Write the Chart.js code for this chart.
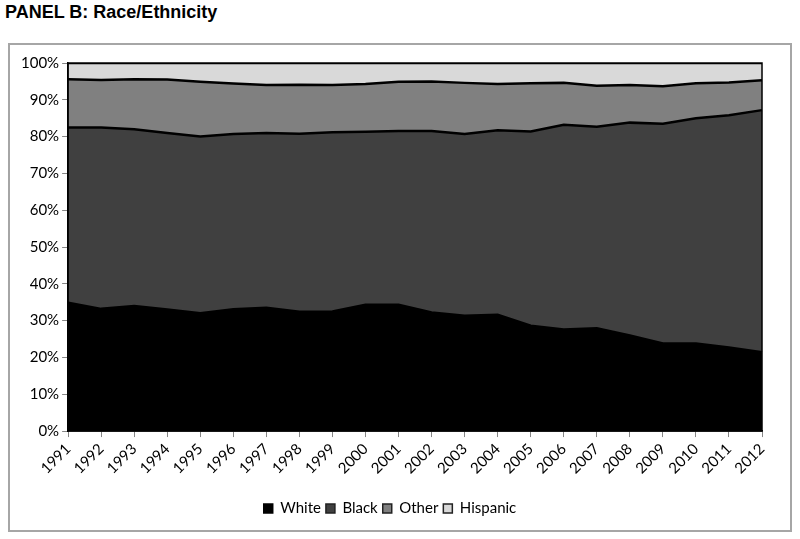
<!DOCTYPE html>
<html>
<head>
<meta charset="utf-8">
<script src="https://cdn.jsdelivr.net/npm/chart.js@4"></script>
<style>
  body { margin: 0; background: #fff; width: 800px; height: 539px; position: relative; overflow: hidden; }
  #title { position: absolute; left: 5px; top: 2px; font: bold 18px "Liberation Sans", Arial, sans-serif; color: #000; }
  #box { position: absolute; left: 8px; top: 43px; width: 780px; height: 485px; border: 2px solid #a6a6a6; }
</style>
</head>
<body>
<div id="title">PANEL B: Race/Ethnicity</div>
<div id="box"><canvas id="areaChart" width="780" height="485"></canvas></div>
<script>
const years = ['1991','1992','1993','1994','1995','1996','1997','1998','1999','2000','2001',
               '2002','2003','2004','2005','2006','2007','2008','2009','2010','2011','2012'];
const white    = [34.9,33.2,34.0,33.0,32.0,33.1,33.5,32.4,32.5,34.3,34.3,32.2,31.3,31.6,28.6,27.6,27.9,26.0,23.8,23.8,22.7,21.4];
const black    = [47.6,49.3,48.0,48.0,48.0,47.6,47.5,48.4,48.7,47.0,47.2,49.3,49.4,50.1,52.8,55.6,54.8,57.8,59.7,61.2,63.1,65.8];
const other    = [13.1,12.9,13.6,14.5,14.9,13.7,13.0,13.3,12.8,13.0,13.4,13.5,13.9,12.6,13.1,11.4,11.1,10.2,10.2,9.5,8.9,8.1];
const hispanic = [4.4,4.6,4.4,4.5,5.1,5.6,6.0,5.9,6.0,5.7,5.1,5.0,5.4,5.7,5.5,5.4,6.2,6.0,6.3,5.5,5.3,4.7];

// frame round the plot area (top and right edges too)
const frame = {
    id: 'frame',
    afterDatasetsDraw(chart) {
        const a = chart.chartArea, c = chart.ctx;
        c.save();
        c.strokeStyle = '#000';
        c.lineWidth = 1.5;
        c.strokeRect(a.left, a.top, a.right - a.left, a.bottom - a.top);
        c.restore();
    }
};

function series(label, data, color, fill) {
    return {
        label: label,
        data: data,
        backgroundColor: color,
        borderColor: '#000',
        borderWidth: 2.5,
        fill: fill,
        pointRadius: 0,
        tension: 0
    };
}

const ctx = document.getElementById('areaChart');
new Chart(ctx, {
    type: 'line',
    data: {
        labels: years,
        datasets: [
            series('White', white, '#000000', 'origin'),
            series('Black', black, '#404040', '-1'),
            series('Other', other, '#808080', '-1'),
            series('Hispanic', hispanic, '#d9d9d9', '-1')
        ]
    },
    options: {
        responsive: false,
        animation: false,
        layout: { padding: { left: 8, right: 28, top: 18, bottom: 4 } },
        plugins: {
            tooltip: { enabled: false },
            legend: {
                position: 'bottom',
                // blank title just to leave room above the legend
                title: { display: true, text: ' ', font: { size: 8 }, padding: 3 },
                labels: {
                    color: '#000',
                    font: { family: 'Lato', size: 15 },
                    boxWidth: 9,
                    boxHeight: 9,
                    padding: 5,
                    generateLabels(chart) {
                        return chart.data.datasets.map((d, i) => ({
                            text: d.label,
                            fillStyle: d.backgroundColor,
                            strokeStyle: i === 0 ? '#000' : '#222',
                            fontColor: '#000',
                            lineWidth: 1.5,
                            hidden: false,
                            datasetIndex: i
                        }));
                    }
                }
            }
        },
        scales: {
            x: {
                offset: false,
                grid: { display: true, drawOnChartArea: false, color: '#868686', tickLength: 6 },
                border: { color: '#000', width: 1.5 },
                ticks: { color: '#000', font: { family: 'Lato', size: 15 }, maxRotation: 45, minRotation: 45, autoSkip: false }
            },
            y: {
                stacked: true,
                min: 0,
                max: 100,
                grid: { display: true, drawOnChartArea: false, color: '#868686', tickLength: 6 },
                border: { color: '#000', width: 1.5 },
                ticks: { stepSize: 10, color: '#000', font: { family: 'Lato', size: 15 }, callback: v => v + '%' }
            }
        }
    },
    plugins: [frame]
});
</script>
</body>
</html>
